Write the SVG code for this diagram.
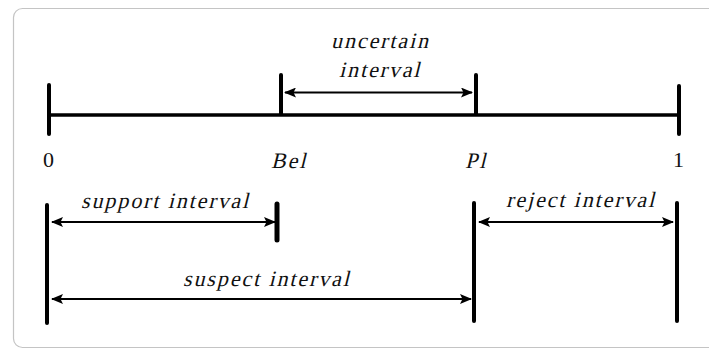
<svg xmlns="http://www.w3.org/2000/svg" width="709" height="349" viewBox="0 0 709 349">
<style>
.lbl{font-family:'Liberation Serif','Times New Roman',serif;font-size:22px;letter-spacing:1.9px;fill:#111}
.num{font-family:'Liberation Serif','Times New Roman',serif;font-size:22px;fill:#111}
.tick{stroke:#000;stroke-width:4;stroke-linecap:round;fill:none}
.axis{stroke:#000;stroke-width:3.5;fill:none}
.arr{stroke:#000;stroke-width:2;fill:none;marker-start:url(#ah);marker-end:url(#ah)}
</style>
<defs>
<marker id="ah" viewBox="0 0 12 10" refX="11" refY="5" markerWidth="12" markerHeight="10" markerUnits="userSpaceOnUse" orient="auto-start-reverse">
<path d="M0,0 L12,5 L0,10 L2.5,5 Z" fill="#000"/>
</marker>
</defs>
<rect x="13.5" y="8.5" width="780" height="339" rx="9" fill="#fff" stroke="#c4c4c4" stroke-width="1.2"/>
<g id="axis">
<line class="axis" x1="49" y1="115" x2="680" y2="115"/>
<line class="tick" x1="49" y1="85" x2="49" y2="134"/>
<line class="tick" x1="281" y1="75" x2="281" y2="114"/>
<line class="tick" x1="476" y1="75" x2="476" y2="114"/>
<line class="tick" x1="679" y1="86" x2="679" y2="134"/>
</g>
<g id="labels">
<text class="num" x="43" y="167">0</text>
<text class="lbl" transform="translate(271,168) skewX(-14)" x="0" y="0">Bel</text>
<text class="lbl" transform="translate(465,168) skewX(-14)" x="0" y="0">Pl</text>
<text class="num" x="673" y="167">1</text>
</g>
<g id="uncertain">
<text class="lbl" transform="translate(331,48) skewX(-14)" x="0" y="0">uncertain</text>
<text class="lbl" transform="translate(339,77) skewX(-14)" x="0" y="0">interval</text>
</g>
<g id="lower-ticks">
<line class="tick" x1="47" y1="205" x2="47" y2="323"/>
<line class="tick" x1="277" y1="204" x2="277" y2="240" style="stroke-width:5"/>
<line class="tick" x1="474" y1="203" x2="474" y2="321"/>
<line class="tick" x1="677" y1="203" x2="677" y2="321"/>
</g>
<g id="support"><text class="lbl" transform="translate(81,208) skewX(-14)" x="0" y="0">support interval</text></g>
<g id="suspect"><text class="lbl" transform="translate(183,286) skewX(-14)" x="0" y="0">suspect interval</text></g>
<g id="reject"><text class="lbl" transform="translate(506,207) skewX(-14)" x="0" y="0">reject interval</text></g>
<g id="connectors">
<line class="arr" x1="285" y1="92.5" x2="472" y2="92.5"/>
<line class="arr" x1="52" y1="222" x2="275" y2="222"/>
<line class="arr" x1="52" y1="299" x2="471" y2="299"/>
<line class="arr" x1="479" y1="222" x2="673" y2="222"/>
</g>
</svg>
